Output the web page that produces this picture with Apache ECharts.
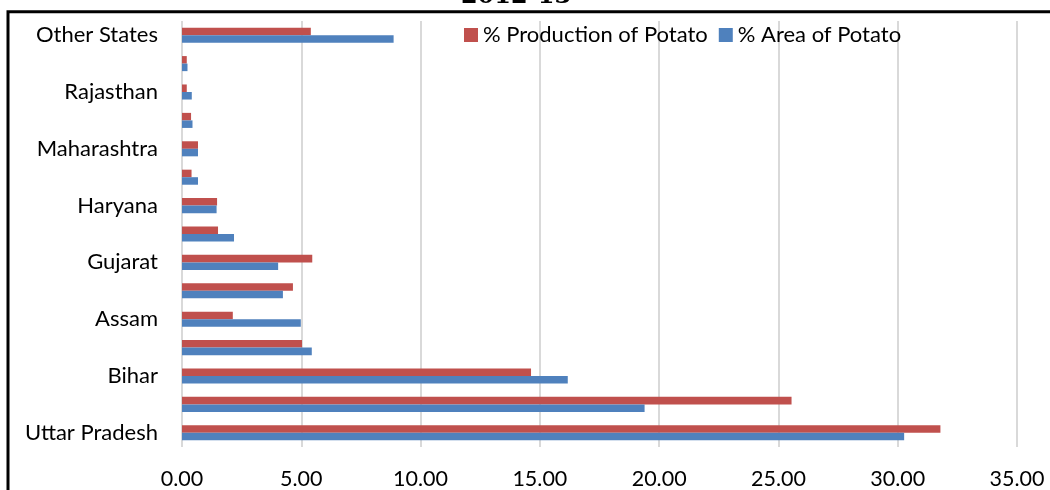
<!DOCTYPE html>
<html>
<head>
<meta charset="utf-8">
<script src="https://cdn.jsdelivr.net/npm/echarts@6/dist/echarts.min.js"></script>
<style>
  html, body { margin: 0; padding: 0; background: #fff; }
  #chart { width: 1050px; height: 490px; }
</style>
</head>
<body>
<div id="chart"></div>
<script>
// States, listed bottom to top on the category axis
const states = [
  'Uttar Pradesh', 'West Bengal', 'Bihar', 'Punjab', 'Assam',
  'Madhya Pradesh', 'Gujarat', 'Jharkhand', 'Haryana', 'Karnataka',
  'Maharashtra', 'Chhattisgarh', 'Rajasthan', 'Himachal Pradesh', 'Other States'
];
// Share of national potato production (%)
const productionPct = [
  31.79, 25.55, 14.63, 5.03, 2.13,
  4.65, 5.46, 1.51, 1.47, 0.40,
  0.67, 0.38, 0.20, 0.20, 5.40
];
// Share of national potato area (%)
const areaPct = [
  30.27, 19.39, 16.17, 5.44, 4.98,
  4.23, 4.03, 2.18, 1.45, 0.67,
  0.67, 0.44, 0.41, 0.23, 8.87
];
const xTicks = { min: 0, max: 35, step: 5 };
const titleText = '2012-13';
const seriesNames = ['% Production of Potato', '% Area of Potato'];

const chart = echarts.init(document.getElementById('chart'), null, { renderer: 'canvas' });
const labelFont = 'Lato, "Open Sans", sans-serif';

chart.setOption({
  animation: false,
  backgroundColor: '#ffffff',
  title: {
    text: titleText,
    left: 511,
    top: -20,
    textAlign: 'center',
    textStyle: { fontFamily: '"DejaVu Serif", serif', fontWeight: 'bold', fontSize: 24, color: '#000' }
  },
  graphic: [{
    type: 'rect',
    shape: { x: 8, y: 11.8, width: 1200, height: 700 },
    style: { fill: 'none', stroke: '#000', lineWidth: 3 },
    z: 100
  }],
  legend: {
    left: 459,
    top: 19,
    itemWidth: 14,
    itemHeight: 14,
    itemGap: 11,
    icon: 'rect',
    textStyle: { fontFamily: labelFont, fontSize: 22, color: '#000' },
    data: seriesNames
  },
  grid: { left: 182, right: 33, top: 21, bottom: 42, containLabel: false },
  xAxis: {
    type: 'value',
    min: xTicks.min,
    max: xTicks.max,
    interval: xTicks.step,
    axisLine: { show: false },
    axisTick: { show: false },
    axisLabel: {
      formatter: v => v.toFixed(2),
      fontFamily: labelFont, fontSize: 21.5, color: '#000', margin: 21
    },
    splitLine: { lineStyle: { color: '#D9D9D9', width: 2 } }
  },
  yAxis: {
    type: 'category',
    data: states,
    axisLine: { show: false },
    axisTick: { show: false },
    axisLabel: { interval: 1, fontFamily: labelFont, fontSize: 22, color: '#000', margin: 24 }
  },
  series: [
    {
      name: seriesNames[0], type: 'bar', data: productionPct,
      itemStyle: { color: '#C0504D' }, barCategoryGap: '47%', barGap: '0%'
    },
    {
      name: seriesNames[1], type: 'bar', data: areaPct,
      itemStyle: { color: '#4F81BD' }, barCategoryGap: '47%', barGap: '0%'
    }
  ]
});
</script>
</body>
</html>
